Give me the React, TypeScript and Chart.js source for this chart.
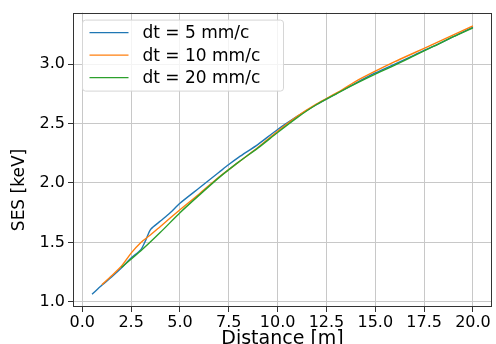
import React, { useEffect, useRef } from 'react';
import { Chart, registerables } from 'chart.js';

Chart.register(...registerables);

const seriesLabels = ['dt = 5 mm/c', 'dt = 10 mm/c', 'dt = 20 mm/c'];
const seriesColors = ['#1f77b4', '#ff7f0e', '#2ca02c'];

const dt5X = [0.5, 1.0, 1.5, 2.0, 2.5, 3.0, 3.25, 3.5, 4.0, 4.5, 5.0, 6.0, 7.0, 7.5, 8.0, 9.0, 10.0, 11.0, 12.0, 12.5, 13.0, 14.0, 15.0, 16.0, 17.0, 17.5, 18.0, 19.0, 20.0];
const dt5Y = [1.065, 1.14, 1.21, 1.285, 1.37, 1.44, 1.52, 1.61, 1.68, 1.75, 1.83, 1.96, 2.09, 2.155, 2.215, 2.325, 2.45, 2.56, 2.66, 2.705, 2.75, 2.84, 2.925, 3.0, 3.075, 3.115, 3.15, 3.23, 3.31];

const dt10X = [1.0, 1.5, 2.0, 2.5, 3.0, 3.5, 4.0, 5.0, 6.0, 7.0, 8.0, 9.0, 10.0, 11.0, 12.0, 13.0, 14.0, 15.0, 16.0, 17.0, 18.0, 19.0, 20.0];
const dt10Y = [1.145, 1.22, 1.3, 1.41, 1.5, 1.565, 1.635, 1.775, 1.91, 2.05, 2.175, 2.3, 2.435, 2.56, 2.665, 2.755, 2.855, 2.94, 3.02, 3.095, 3.17, 3.245, 3.32];

const dt20X = [2.0, 3.0, 4.0, 5.0, 6.0, 7.0, 8.0, 9.0, 10.0, 11.0, 12.0, 13.0, 14.0, 15.0, 16.0, 17.0, 18.0, 19.0, 20.0];
const dt20Y = [1.29, 1.43, 1.585, 1.75, 1.9, 2.045, 2.175, 2.295, 2.425, 2.55, 2.66, 2.75, 2.835, 2.915, 2.99, 3.07, 3.15, 3.23, 3.305];

const xTicks = [0, 2.5, 5, 7.5, 10, 12.5, 15, 17.5, 20];
const yTicks = [1.0, 1.5, 2.0, 2.5, 3.0];
const xTitle = 'Distance [m]';
const yTitle = 'SES [keV]';

const FONT = "'DejaVu Sans', sans-serif";

const toPoints = (xs: number[], ys: number[]) => xs.map((x, i) => ({ x, y: ys[i] }));

const framePlugin = {
  id: 'mplFrame',
  afterDatasetsDraw(chart: any) {
    const { ctx, chartArea } = chart;
    ctx.save();
    ctx.strokeStyle = '#333333';
    ctx.lineWidth = 1;
    ctx.strokeRect(
      Math.round(chartArea.left) + 0.5,
      Math.round(chartArea.top) + 0.5,
      Math.round(chartArea.right - chartArea.left) - 1,
      Math.round(chartArea.bottom - chartArea.top) - 1
    );
    ctx.restore();
  },
};

const yTitlePlugin = {
  id: 'mplYTitle',
  afterDraw(chart: any) {
    const { ctx } = chart;
    ctx.save();
    ctx.translate(20, 190);
    ctx.rotate(-Math.PI / 2);
    ctx.font = `17px ${FONT}`;
    ctx.fillStyle = '#000000';
    ctx.textAlign = 'center';
    ctx.textBaseline = 'middle';
    ctx.fillText(yTitle, 0, 0);
    ctx.restore();
  },
};

const legendPlugin = {
  id: 'mplLegend',
  afterDraw(chart: any) {
    const { ctx, chartArea } = chart;
    const x0 = chartArea.left + 9.5;
    const y0 = chartArea.top + 7.5;
    const w = 201;
    const h = 71;
    const r = 3;
    ctx.save();
    ctx.beginPath();
    ctx.moveTo(x0 + r, y0);
    ctx.lineTo(x0 + w - r, y0);
    ctx.arcTo(x0 + w, y0, x0 + w, y0 + r, r);
    ctx.lineTo(x0 + w, y0 + h - r);
    ctx.arcTo(x0 + w, y0 + h, x0 + w - r, y0 + h, r);
    ctx.lineTo(x0 + r, y0 + h);
    ctx.arcTo(x0, y0 + h, x0, y0 + h - r, r);
    ctx.lineTo(x0, y0 + r);
    ctx.arcTo(x0, y0, x0 + r, y0, r);
    ctx.closePath();
    ctx.fillStyle = 'rgba(255,255,255,0.8)';
    ctx.fill();
    ctx.strokeStyle = '#d6d6d6';
    ctx.lineWidth = 1;
    ctx.stroke();
    ctx.font = `17px ${FONT}`;
    ctx.textBaseline = 'middle';
    ctx.textAlign = 'left';
    seriesLabels.forEach((label, i) => {
      const yy = y0 + 12.5 + i * 22.5;
      ctx.strokeStyle = seriesColors[i];
      ctx.lineWidth = 1.4;
      ctx.beginPath();
      ctx.moveTo(x0 + 7, yy);
      ctx.lineTo(x0 + 46, yy);
      ctx.stroke();
      ctx.fillStyle = '#000000';
      ctx.fillText(label, x0 + 60, yy + 1);
    });
    ctx.restore();
  },
};

export default function App() {
  const canvasRef = useRef<HTMLCanvasElement | null>(null);

  useEffect(() => {
    const canvas = canvasRef.current;
    if (!canvas) return;
    const xs = [dt5X, dt10X, dt20X];
    const ys = [dt5Y, dt10Y, dt20Y];
    const chart = new Chart(canvas, {
      type: 'line',
      data: {
        datasets: seriesLabels.map((label, i) => ({
          label,
          data: toPoints(xs[i], ys[i]),
          borderColor: seriesColors[i],
          backgroundColor: seriesColors[i],
          borderWidth: 1.4,
          pointRadius: 0,
          tension: 0.25,
          fill: false,
          order: 3 - i,
        })),
      },
      options: {
        responsive: false,
        animation: false,
        layout: { padding: { top: 12, right: 4, left: 0, bottom: 0 } },
        plugins: {
          legend: { display: false },
          tooltip: { enabled: false },
        },
        scales: {
          x: {
            type: 'linear',
            min: -0.475,
            max: 20.975,
            afterBuildTicks: (scale: any) => {
              scale.ticks = xTicks.map((v) => ({ value: v }));
            },
            afterFit: (scale: any) => {
              scale.height = 37;
            },
            border: { display: false },
            grid: { color: '#c8c8c8', lineWidth: 1, tickColor: '#333333', tickLength: 5 },
            ticks: {
              autoSkip: false,
              maxRotation: 0,
              padding: 1,
              color: '#000000',
              font: { family: FONT, size: 16 },
              callback: (v: any) => Number(v).toFixed(1),
            },
            title: {
              display: true,
              text: xTitle,
              color: '#000000',
              font: { family: FONT, size: 19 },
              padding: { top: 0, bottom: -6 },
            },
          },
          y: {
            type: 'linear',
            min: 0.9575,
            max: 3.4325,
            afterBuildTicks: (scale: any) => {
              scale.ticks = yTicks.map((v) => ({ value: v }));
            },
            afterFit: (scale: any) => {
              scale.width = 73;
            },
            border: { display: false },
            grid: { color: '#c8c8c8', lineWidth: 1, tickColor: '#333333', tickLength: 5 },
            ticks: {
              autoSkip: false,
              padding: 3,
              color: '#000000',
              font: { family: FONT, size: 16 },
              callback: (v: any) => Number(v).toFixed(1),
            },
            title: { display: false, text: yTitle },
          },
        },
      },
      plugins: [framePlugin, legendPlugin, yTitlePlugin],
    });
    return () => chart.destroy();
  }, []);

  return (
    <div style={{ position: 'absolute', left: 0, top: 0, width: 496, height: 344, background: '#ffffff' }}>
      <canvas ref={canvasRef} width={496} height={344} style={{ display: 'block', width: 496, height: 344 }} />
    </div>
  );
}
